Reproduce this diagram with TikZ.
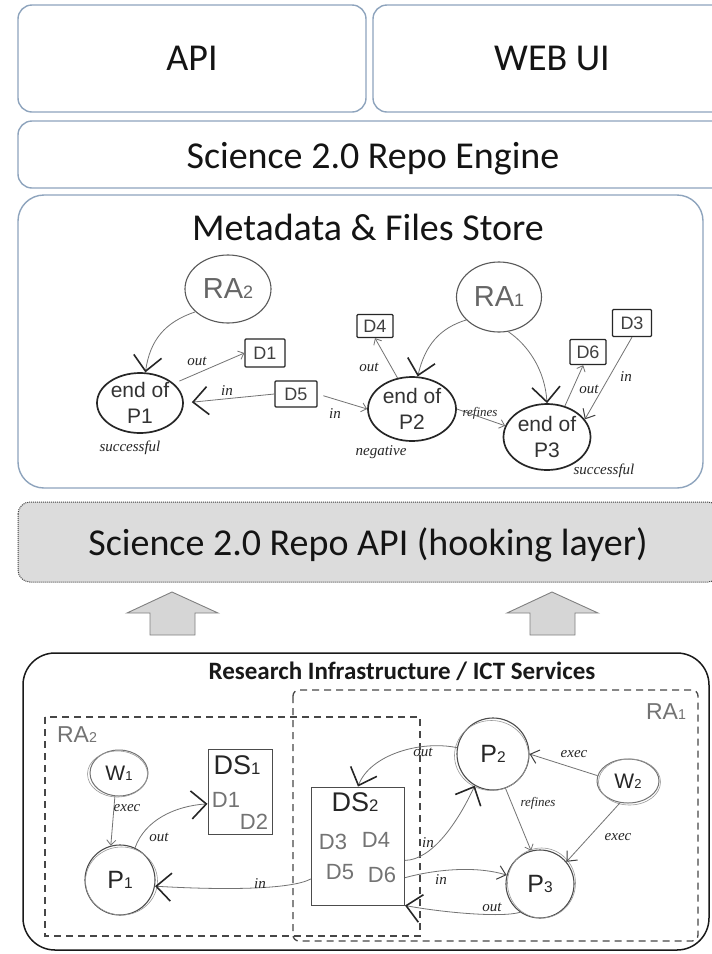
\documentclass[tikz,border=0pt]{standalone}
\usepackage{fontspec}
\setmainfont{Carlito}
\newfontfamily\skf{Liberation Sans}
\newfontfamily\hnd{Liberation Serif}
\usetikzlibrary{shapes.geometric,arrows.meta}
\definecolor{boxblue}{HTML}{8EA4BD}
\definecolor{hookgray}{HTML}{DCDCDC}
\definecolor{arrgray}{HTML}{D6D6D6}
\newcommand\sbs[1]{\scalebox{0.62}{#1}}
\begin{document}
\begin{tikzpicture}[x=1pt,y=-1pt,
  layerbox/.style={draw=boxblue, line width=1.4pt, rounded corners=14pt, fill=white},
  bigtext/.style={font=\fontsize{38}{40}\selectfont, text=black!92, text depth=0pt, inner sep=0pt},
  ranode/.style={ellipse, draw=black!65, line width=1.1pt, font=\skf\fontsize{29}{29}\selectfont, text=black!60, inner sep=0pt},
  endnode/.style={ellipse, draw=black!85, line width=1.7pt, font=\skf\fontsize{21}{26}\selectfont, text=black!80, align=center, inner sep=0pt},
  dnode/.style={rectangle, draw=black!85, line width=1.3pt, font=\skf\fontsize{18}{18}\selectfont, text=black!75, inner sep=0pt, rounded corners=1pt},
  pnode/.style={circle, draw=black!70, line width=1.1pt, font=\skf\fontsize{25}{25}\selectfont, text=black!85, inner sep=0pt},
  wnode/.style={ellipse, draw=black!55, line width=1pt, font=\skf\fontsize{21}{21}\selectfont, text=black!85, inner sep=0pt},
  sketch/.style={draw=black!40, line width=0.6pt},
  dsbox/.style={rectangle, draw=black!70, line width=1pt, inner sep=0pt},
  dstitle/.style={font=\skf\fontsize{27}{27}\selectfont, text=black!85, inner sep=0pt},
  dsitem/.style={font=\skf\fontsize{22}{22}\selectfont, text=black!55, inner sep=0pt},
  ralabel/.style={font=\skf\fontsize{23}{23}\selectfont, text=black!55, inner sep=0pt},
  hand/.style={font=\hnd\itshape\fontsize{15}{15}\selectfont, text=black!85, inner sep=0pt},
  gline/.style={draw=black!55, line width=0.8pt},
  smalltip/.style={-{Straight Barb[length=5pt,width=9pt,line width=0.8pt]}},
  midtip/.style={-{Straight Barb[length=8pt,width=14pt,line width=1pt,color=black!75]}},
  bigtip/.style={-{Straight Barb[length=15pt,width=28pt,line width=1.6pt,color=black!85]}},
  dashbox/.style={draw=black!72, line width=1.3pt, dash pattern=on 7pt off 5pt},
  uparrow/.style={draw=black!50, fill=arrgray, line width=0.9pt, line join=miter}
]
\clip (0,0) rectangle (712,954);
\fill[white] (0,0) rectangle (712,954);

% ---------- top layers ----------
\node[layerbox, minimum width=348pt, minimum height=107pt] (apibox) at (192,58.5) {};
\node[bigtext] (api) at (192,58.5) {API};
\node[layerbox, minimum width=357pt, minimum height=107pt] (webbox) at (551.5,58.5) {};
\node[bigtext] (web) at (552,58.5) {WEB UI};
\node[layerbox, minimum width=710pt, minimum height=67pt] (engbox) at (373,154.5) {};
\node[bigtext] (eng) at (373,155) {Science 2.0 Repo Engine};

% ---------- metadata store ----------
\draw[draw=boxblue, line width=1.4pt, rounded corners=26pt] (18,195) rectangle (703,488);
\node[bigtext] (mtitle) at (368,227) {Metadata \& Files Store};

\node[ranode, minimum width=86pt, minimum height=68pt] (ra2m) at (228,289) {RA\sbs{2}};
\node[ranode, minimum width=85pt, minimum height=70pt] (ra1m) at (499,297) {RA\sbs{1}};
\node[endnode, minimum width=86pt, minimum height=60pt] (e1) at (140,403) {end of\\P1};
\node[endnode, minimum width=88pt, minimum height=64pt] (e2) at (412,409) {end of\\P2};
\node[endnode, minimum width=87pt, minimum height=66pt] (e3) at (547,437) {end of\\P3};
\node[dnode, minimum width=40pt, minimum height=28pt] (d1) at (265,353) {D1};
\node[dnode, minimum width=42pt, minimum height=26pt] (d5) at (296,394) {D5};
\node[dnode, minimum width=36pt, minimum height=23pt] (d4) at (375,326) {D4};
\node[dnode, minimum width=36pt, minimum height=25pt] (d6) at (588,352) {D6};
\node[dnode, minimum width=39pt, minimum height=27pt] (d3) at (632,323) {D3};

\draw[gline, bigtip] (ra2m.215) .. controls (165,322) and (150,340) .. (e1.80);
\draw[gline, smalltip, shorten <=6pt] (e1.30) -- (d1.west);
\draw[gline, bigtip, shorten >=8pt] (d5.west) -- (e1.east);
\draw[gline, smalltip, shorten <=6pt] (d5.east) -- (e2.west);
\draw[gline, smalltip] (e2.115) -- (d4.south);
\draw[gline, bigtip] (ra1m.215) .. controls (440,328) and (425,345) .. (e2.80);
\draw[gline, bigtip] (ra1m.285) .. controls (528,345) and (545,370) .. (e3.90);
\draw[gline, smalltip] (e2.east) -- (e3.165);
\draw[gline, smalltip] (e3.60) -- (d6.250);
\draw[gline, midtip] (d3.south) -- (e3.25);

\node[hand] (lo1) at (197,361) {out};
\node[hand] (li1) at (227,391) {in};
\node[hand] (li2) at (335,414) {in};
\node[hand] (lo2) at (369,367) {out};
\node[hand, font=\hnd\itshape\fontsize{13}{13}\selectfont] (lref1) at (480,413) {refines};
\node[hand] (lo3) at (589,389) {out};
\node[hand] (li3) at (626,377) {in};
\node[hand] (ls1) at (130,448) {successful};
\node[hand] (lneg) at (381,452) {negative};
\node[hand] (ls3) at (604,471) {successful};

% ---------- hooking layer ----------
\draw[draw=black!75, fill=hookgray, line width=1pt, densely dotted, rounded corners=12pt] (18,502) rectangle (720,582);
\node[bigtext] (hook) at (368,542) {Science 2.0 Repo API (hooking layer)};

\draw[uparrow] (172,592) -- (218,613) -- (195,613) -- (195,635) -- (150,635) -- (150,613) -- (127,613) -- cycle;
\draw[uparrow] (552,592) -- (598,613) -- (575,613) -- (575,635) -- (530,635) -- (530,613) -- (507,613) -- cycle;

% ---------- research infrastructure ----------
\draw[draw=black!90, line width=1.5pt, rounded corners=32pt] (23,653) rectangle (709,950);
\node[font=\bfseries\fontsize{25}{25}\selectfont, text=black!90, inner sep=0pt, text depth=0pt] (rtitle) at (402,671) {Research Infrastructure / ICT Services};

\draw[dashbox] (45,717) rectangle (420,936);
\draw[dashbox, rounded corners=6pt] (293,690) rectangle (698,941);
\node[ralabel] (ra2l) at (77,735) {RA\sbs{2}};
\node[ralabel] (ra1l) at (666,712) {RA\sbs{1}};

\node[wnode, minimum width=58pt, minimum height=46pt] (w1) at (119,773) {W\sbs{1}};
\node[pnode, minimum size=70pt] (p1) at (120,880) {P\sbs{1}};
\node[pnode, minimum size=72pt] (p2) at (493,754) {P\sbs{2}};
\node[pnode, minimum size=68pt] (p3) at (540,884) {P\sbs{3}};
\node[wnode, minimum width=62pt, minimum height=44pt] (w2) at (628,781) {W\sbs{2}};

% second pencil strokes of the hand-drawn circles
\draw[sketch] ([shift={(1.5,1)}]p1.center) ellipse [x radius=36, y radius=34];
\draw[sketch] ([shift={(-1.5,1.5)}]p2.center) ellipse [x radius=37, y radius=35];
\draw[sketch] ([shift={(1.5,-1)}]p3.center) ellipse [x radius=34, y radius=35];
\draw[sketch] ([shift={(-1.5,1)}]w1.center) ellipse [x radius=30, y radius=23];
\draw[sketch] ([shift={(1.5,1)}]w2.center) ellipse [x radius=31, y radius=23];

\node[dsbox, minimum width=64pt, minimum height=85pt] (ds1) at (240,792) {};
\node[dstitle] (ds1t) at (237,765) {DS\sbs{1}};
\node[dsitem] (ds1a) at (226,800) {D1};
\node[dsitem] (ds1b) at (254,822) {D2};

\node[dsbox, minimum width=93pt, minimum height=118pt] (ds2) at (358,846) {};
\node[dstitle] (ds2t) at (355,802) {DS\sbs{2}};
\node[dsitem] (ds2a) at (333,842) {D3};
\node[dsitem] (ds2b) at (376,840) {D4};
\node[dsitem] (ds2c) at (340,872) {D5};
\node[dsitem] (ds2d) at (382,875) {D6};

\draw[gline, smalltip] (w1.260) -- (p1.105);
\draw[gline, bigtip] (p1.65) .. controls (145,820) and (175,806) .. (ds1.200);
\draw[gline, bigtip] (ds2.215) .. controls (290,890) and (220,890) .. (p1.350);
\draw[gline, bigtip] (p2.170) .. controls (420,740) and (370,755) .. (ds2.north);
\draw[gline, bigtip] (ds2.343) .. controls (432,860) and (458,822) .. (p2.240);
\draw[gline, midtip] (ds2.326) .. controls (425,872) and (470,864) .. (p3.165);
\draw[gline, bigtip] (p3.235) .. controls (500,918) and (440,912) .. (ds2.south east);
\draw[gline, midtip] (w2.170) -- (p2.east);
\draw[gline, midtip] (w2.250) -- (p3.40);
\draw[gline, smalltip] (p2.290) -- (p3.105);

\node[hand] (lex1) at (127,808) {exec};
\node[hand] (lbo1) at (159,837) {out};
\node[hand] (lbi1) at (260,884) {in};
\node[hand] (lbo2) at (423,752) {out};
\node[hand] (lbi2) at (428,843) {in};
\node[hand] (lbi3) at (441,880) {in};
\node[hand] (lbo3) at (492,907) {out};
\node[hand] (lex2) at (574,754) {exec};
\node[hand] (lex3) at (618,837) {exec};
\node[hand, font=\hnd\itshape\fontsize{13}{13}\selectfont] (lref2) at (538,803) {refines};
\end{tikzpicture}
\end{document}
